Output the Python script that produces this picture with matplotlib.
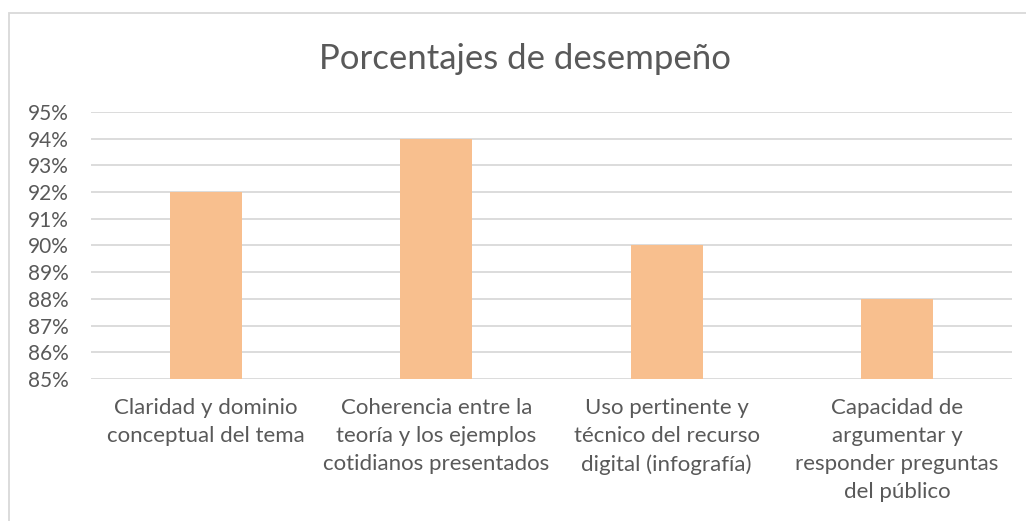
import matplotlib.pyplot as plt
from matplotlib.patches import Rectangle

categories = [
    "Claridad y dominio\nconceptual del tema",
    "Coherencia entre la\nteoría y los ejemplos\ncotidianos presentados",
    "Uso pertinente y\ntécnico del recurso\ndigital (infografía)",
    "Capacidad de\nargumentar y\nresponder preguntas\ndel público",
]
values = [92, 94, 90, 88]
yticks = [85, 86, 87, 88, 89, 90, 91, 92, 93, 94, 95]

plt.rcParams["font.family"] = ["Lato", "DejaVu Sans"]
text_color = "#595959"
grid_color = "#D9D9D9"

fig = plt.figure(figsize=(10.26, 5.21), dpi=100)
ax = fig.add_axes([91 / 1026, 1 - 379 / 521, (1012 - 91) / 1026, (379 - 112) / 521])

x = range(len(categories))
ax.bar(x, [v - 85 for v in values], bottom=85, width=0.313, color="#F8BF8E", zorder=3)

ax.set_xlim(-0.5, len(categories) - 0.5)
ax.set_ylim(85, 95)
ax.set_yticks(yticks)
ax.set_yticklabels([f"{t}%" for t in yticks])
ax.set_xticks(list(x))
ax.set_xticklabels(categories, linespacing=1.5, va="top")
ax.tick_params(axis="y", length=0, labelsize=15, colors=text_color, pad=16)
ax.tick_params(axis="x", length=0, labelsize=16, colors=text_color, pad=14)
ax.yaxis.grid(True, color=grid_color, linewidth=1.3, zorder=0)
for s in ax.spines.values():
    s.set_visible(False)

fig.text(525 / 1026, 1 - 69 / 521, "Porcentajes de desempeño", ha="center", va="baseline",
         fontsize=25, color=text_color)

# chart border (right and bottom edges cut off in the original)
fig.patches.append(Rectangle((9 / 1026, -0.05), 1.1, 1 - 13 / 521 + 0.05,
                             transform=fig.transFigure, fill=False,
                             edgecolor=grid_color, linewidth=1.3))

fig.savefig("out.png", dpi=100)
